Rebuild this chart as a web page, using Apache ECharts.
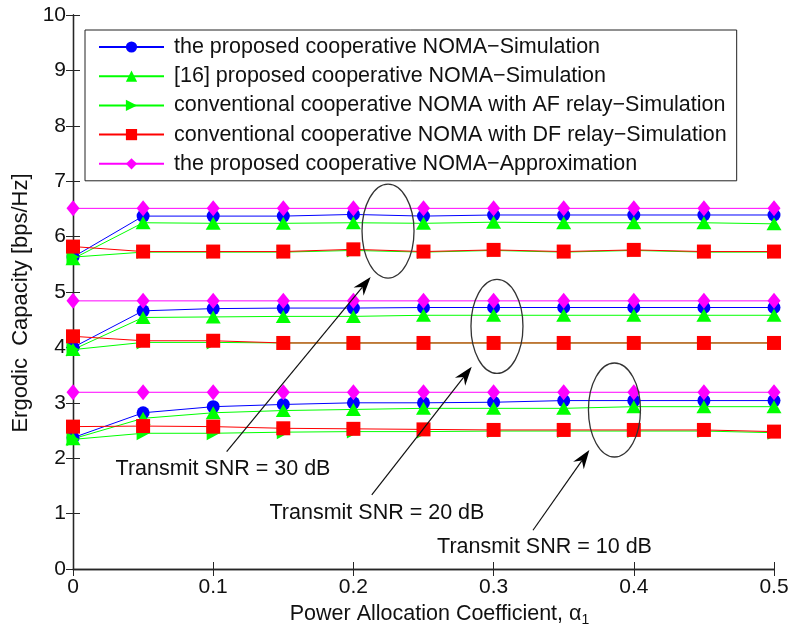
<!DOCTYPE html>
<html>
<head>
<meta charset="utf-8">
<script src="https://cdn.jsdelivr.net/npm/echarts@6/dist/echarts.min.js"></script>
<style>
  html, body { margin: 0; padding: 0; background: #fff; }
  #main { width: 791px; height: 628px; }
</style>
</head>
<body>
<div id="main"></div>
<script>
// power allocation coefficient alpha_1
const xVals = [0, 0.05, 0.1, 0.15, 0.2, 0.25, 0.3, 0.35, 0.4, 0.45, 0.5]

// Transmit SNR = 30 dB
const propSim30 = [5.63, 6.37, 6.37, 6.37, 6.40, 6.37, 6.39, 6.39, 6.39, 6.39, 6.39]
const ref16Sim30 = [5.60, 6.25, 6.24, 6.24, 6.25, 6.24, 6.26, 6.25, 6.25, 6.25, 6.23]
const afSim30 = [5.63, 5.72, 5.72, 5.72, 5.75, 5.72, 5.75, 5.72, 5.75, 5.72, 5.72]
const dfSim30 = [5.82, 5.73, 5.73, 5.73, 5.77, 5.73, 5.76, 5.73, 5.76, 5.73, 5.73]
const approx30 = [6.51, 6.51, 6.51, 6.51, 6.51, 6.51, 6.51, 6.51, 6.51, 6.51, 6.51]

// Transmit SNR = 20 dB
const propSim20 = [4.00, 4.66, 4.70, 4.71, 4.71, 4.72, 4.72, 4.72, 4.72, 4.72, 4.72]
const ref16Sim20 = [3.96, 4.54, 4.55, 4.56, 4.56, 4.58, 4.58, 4.58, 4.58, 4.58, 4.58]
const afSim20 = [3.96, 4.09, 4.09, 4.08, 4.08, 4.08, 4.08, 4.08, 4.08, 4.08, 4.08]
const dfSim20 = [4.20, 4.12, 4.12, 4.08, 4.08, 4.08, 4.08, 4.08, 4.08, 4.08, 4.08]
const approx20 = [4.84, 4.84, 4.84, 4.84, 4.84, 4.84, 4.84, 4.84, 4.84, 4.84, 4.84]

// Transmit SNR = 10 dB
const propSim10 = [2.37, 2.82, 2.93, 2.97, 3.00, 3.00, 3.01, 3.04, 3.04, 3.04, 3.04]
const ref16Sim10 = [2.35, 2.72, 2.82, 2.86, 2.88, 2.90, 2.90, 2.90, 2.93, 2.93, 2.93]
const afSim10 = [2.34, 2.45, 2.45, 2.47, 2.48, 2.48, 2.49, 2.49, 2.49, 2.49, 2.46]
const dfSim10 = [2.57, 2.58, 2.57, 2.54, 2.53, 2.52, 2.51, 2.51, 2.51, 2.51, 2.48]
const approx10 = [3.19, 3.19, 3.19, 3.19, 3.19, 3.19, 3.19, 3.19, 3.19, 3.19, 3.19]

const legendNames = [
  'the proposed cooperative NOMA\u2212Simulation',
  '[16] proposed cooperative NOMA\u2212Simulation',
  'conventional cooperative NOMA with AF relay\u2212Simulation',
  'conventional cooperative NOMA with DF relay\u2212Simulation',
  'the proposed cooperative NOMA\u2212Approximation'
]

// annotations, in data units
const snrLabels = ['Transmit SNR = 30 dB', 'Transmit SNR = 20 dB', 'Transmit SNR = 10 dB']
const labelPos = [[0.107, 1.80], [0.2168, 1.01], [0.3363, 0.40]]
const ellipseCenters = [[0.2247, 6.10], [0.3024, 4.38], [0.3862, 2.87]]
const arrowTails = [[0.1096, 2.12], [0.2131, 1.34], [0.3281, 0.70]]
const arrowTips = [[0.2123, 5.27], [0.2844, 3.65], [0.3683, 2.15]]

const FONT = 'Liberation Sans, Arial, sans-serif'
const FS = 21.5

// marker style per method
const styles = [
  { color: '#0000ff', symbol: 'circle', symbolSize: 13, symbolRotate: 0 },
  { color: '#00ff00', symbol: 'triangle', symbolSize: [15, 13], symbolRotate: 0 },
  { color: '#00ff00', symbol: 'triangle', symbolSize: [14, 13], symbolRotate: -90 },
  { color: '#ff0000', symbol: 'rect', symbolSize: 14, symbolRotate: 0 },
  { color: '#ff00ff', symbol: 'diamond', symbolSize: [13, 16], symbolRotate: 0 }
]
const groups = [
  [propSim30, ref16Sim30, afSim30, dfSim30, approx30],
  [propSim20, ref16Sim20, afSim20, dfSim20, approx20],
  [propSim10, ref16Sim10, afSim10, dfSim10, approx10]
]

const series = []
groups.forEach((group) => {
  group.forEach((vals, i) => {
    const s = styles[i]
    series.push({
      name: legendNames[i],
      type: 'line',
      data: xVals.map((x, k) => [x, vals[k]]),
      symbol: s.symbol,
      symbolSize: s.symbolSize,
      symbolRotate: s.symbolRotate,
      showAllSymbol: true,
      animation: false,
      lineStyle: { color: s.color, width: 1 },
      itemStyle: { color: s.color, borderWidth: 0 }
    })
  })
})
// keep the layering of the original: blue, green, AF, red, magenta
series.sort((a, b) => legendNames.indexOf(a.name) - legendNames.indexOf(b.name))

const axisCol = '#262626'
const chart = echarts.init(document.getElementById('main'))
chart.setOption({
  backgroundColor: '#fff',
  animation: false,
  textStyle: { fontFamily: FONT },
  grid: { left: 73, right: 17, top: 15, bottom: 59, outerBoundsMode: 'none', containLabel: false },
  legend: {
    data: legendNames,
    orient: 'vertical',
    left: 85,
    top: 30,
    itemWidth: 65,
    itemHeight: 14,
    itemGap: 7.2,
    padding: [6, 10, 6, 13],
    backgroundColor: '#fff',
    borderColor: '#222',
    borderWidth: 1,
    borderRadius: 0,
    selectedMode: false,
    textStyle: { fontFamily: FONT, fontSize: FS, color: '#111', lineHeight: FS, padding: [0, 0, 0, 5] }
  },
  xAxis: [
    {
      type: 'value',
      min: 0,
      max: 0.5,
      interval: 0.1,
      name: 'Power Allocation Coefficient, \u03b1{sub|1}',
      nameLocation: 'middle',
      nameGap: 23,
      nameTextStyle: {
        fontFamily: FONT, fontSize: FS, color: '#111', verticalAlign: 'top', padding: [0, 0, 0, 32],
        rich: { sub: { fontFamily: FONT, fontSize: 14, color: '#111', padding: [13, 0, 0, 0] } }
      },
      axisLine: { lineStyle: { color: axisCol, width: 1.3 } },
      axisTick: { inside: true, length: 7, lineStyle: { color: axisCol } },
      axisLabel: { fontFamily: FONT, fontSize: 21, color: '#111', margin: 8 },
      splitLine: { show: false }
    },
    {
      type: 'value',
      position: 'top',
      min: 0,
      max: 0.5,
      interval: 0.1,
      axisLine: { show: true, lineStyle: { color: axisCol, width: 1.3 } },
      axisTick: { inside: true, length: 7, lineStyle: { color: axisCol } },
      axisLabel: { show: false },
      splitLine: { show: false }
    }
  ],
  yAxis: [
    {
      type: 'value',
      min: 0,
      max: 10,
      interval: 1,
      name: 'Ergodic  Capacity [bps/Hz]',
      nameLocation: 'middle',
      nameGap: 38,
      nameTextStyle: { fontFamily: FONT, fontSize: 22, color: '#111', padding: [0, 22, 0, 0] },
      axisLine: { show: true, lineStyle: { color: axisCol, width: 1.3 } },
      axisTick: { show: true, inside: true, length: 7, lineStyle: { color: axisCol } },
      axisLabel: { fontFamily: FONT, fontSize: 21, color: '#111', margin: 7 },
      splitLine: { show: false }
    },
    {
      type: 'value',
      position: 'right',
      min: 0,
      max: 10,
      interval: 1,
      axisLine: { show: true, lineStyle: { color: axisCol, width: 1.3 } },
      axisTick: { show: true, inside: true, length: 7, lineStyle: { color: axisCol } },
      axisLabel: { show: false },
      splitLine: { show: false }
    }
  ],
  series: series
})

// annotation graphics: ellipses, arrows and labels placed through the axes
const toPx = (p) => chart.convertToPixel({ xAxisIndex: 0, yAxisIndex: 0 }, p)
const graphics = []
ellipseCenters.forEach((c) => {
  const p = toPx(c)
  graphics.push({
    type: 'ellipse',
    shape: { cx: p[0], cy: p[1], rx: 26, ry: 47 },
    style: { fill: null, stroke: '#333', lineWidth: 1.3 },
    z: 100
  })
})
arrowTails.forEach((t, i) => {
  const a = toPx(t)
  const b = toPx(arrowTips[i])
  const len = Math.hypot(b[0] - a[0], b[1] - a[1])
  const dx = (b[0] - a[0]) / len
  const dy = (b[1] - a[1]) / len
  const L = 19
  const W = 6.5
  const inset = 6
  graphics.push({
    type: 'line',
    shape: { x1: a[0], y1: a[1], x2: b[0] - dx * (L - inset), y2: b[1] - dy * (L - inset) },
    style: { stroke: '#111', lineWidth: 1.2 },
    z: 100
  })
  graphics.push({
    type: 'polygon',
    shape: {
      points: [
        [b[0], b[1]],
        [b[0] - dx * L - dy * W, b[1] - dy * L + dx * W],
        [b[0] - dx * (L - inset), b[1] - dy * (L - inset)],
        [b[0] - dx * L + dy * W, b[1] - dy * L - dx * W]
      ]
    },
    style: { fill: '#000' },
    z: 100
  })
})
snrLabels.forEach((txt, i) => {
  const p = toPx(labelPos[i])
  graphics.push({
    type: 'text',
    x: p[0],
    y: p[1],
    style: { text: txt, font: FS + 'px ' + FONT, fill: '#111', align: 'center', verticalAlign: 'middle' },
    z: 100
  })
})
chart.setOption({ graphic: graphics })
</script>
</body>
</html>
